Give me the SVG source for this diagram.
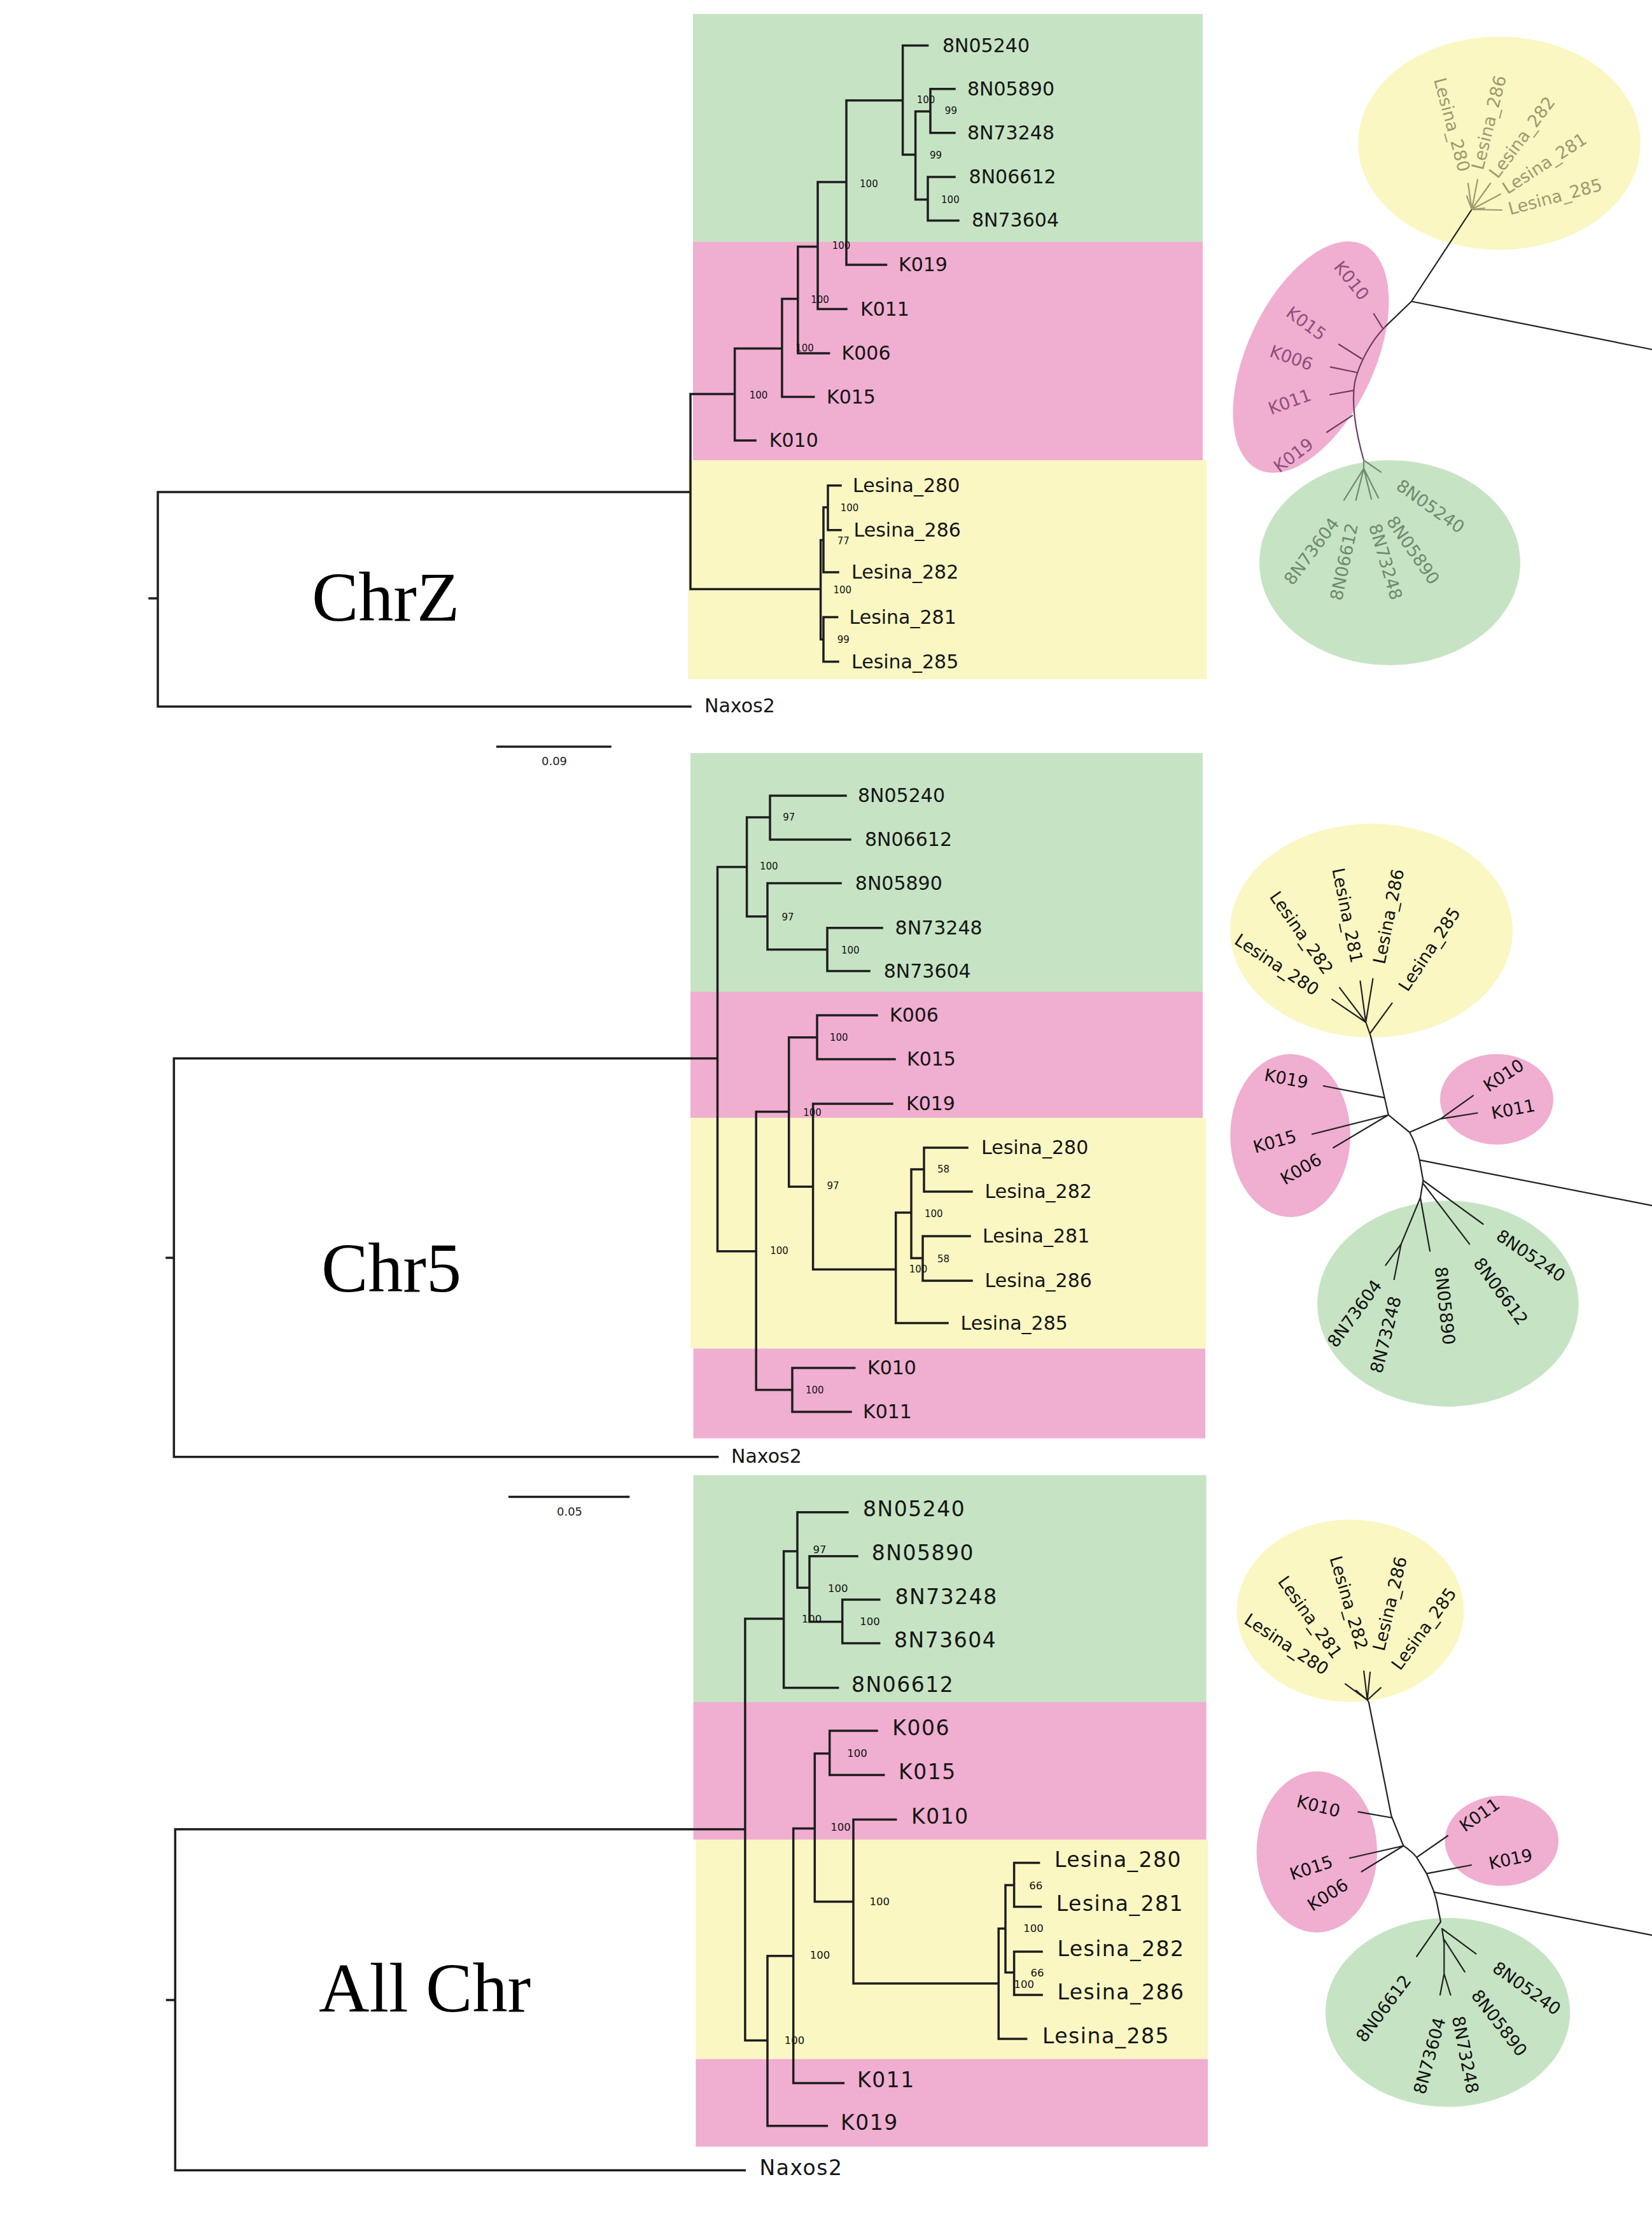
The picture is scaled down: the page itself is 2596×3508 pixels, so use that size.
<svg xmlns="http://www.w3.org/2000/svg" width="2596" height="3508" viewBox="0 0 2596 3508">
<style>
.br{fill:none;stroke:#1e1e1e;stroke-width:3.5;stroke-linecap:square}
.ur{fill:none;stroke:#222;stroke-width:2.2;stroke-linecap:round}
.tx{font-family:"DejaVu Sans",sans-serif;font-size:30px;fill:#151515}
.tx3{font-size:33px;letter-spacing:1.5px}
.bs{font-family:"DejaVu Sans",sans-serif;font-size:15px;fill:#111;text-anchor:middle;dominant-baseline:central}
.bs3{font-size:16.5px}
.ul{font-family:"DejaVu Sans",sans-serif;font-size:27px;text-anchor:middle;dominant-baseline:central;fill:#111}
.big{font-family:"Liberation Serif","Times New Roman",serif;font-size:110px;fill:#000}
.sc{font-family:"DejaVu Sans",sans-serif;font-size:18px;text-anchor:middle;fill:#222}
.g{fill:#c6e4c4}.p{fill:#f0aed0}.y{fill:#faf7c3}
.fy{fill:#9c9a6e}.fp{fill:#8d4f7c}.fg{fill:#6f8a6e}
.sy{stroke:#9c9a6e}.sp{stroke:#6e3d62}.sg{stroke:#6f8a6e}
</style>
<rect width="2596" height="3508" fill="#fff"/>

<!-- ================= PANEL 1 : ChrZ ================= -->
<g id="panel-chrz">
<g id="chrz-bands">
<rect class="g" x="1089" y="22" width="801" height="358"/>
<rect class="p" x="1089" y="380" width="801" height="343"/>
<rect class="y" x="1081" y="723" width="815" height="344"/>
</g>
<g id="chrz-connectors">
<path class="br" d="M235 940H248M248 773V1110M248 773H1085M248 1110H1085
M1085 619V925.6M1085 619H1154.6M1154.6 547.5V692M1154.6 692H1187
M1154.6 547.5H1228.9M1228.9 469.4V623.5M1228.9 623.5H1278.7
M1228.9 469.4H1253.8M1253.8 387.4V555M1253.8 555H1302.6
M1253.8 387.4H1285M1285 286V485.6M1285 485.6H1330
M1285 286H1330M1330 157.7V416M1330 416H1392.5
M1330 157.7H1418.6M1418.6 71.6V243M1418.6 71.6H1457.6
M1418.6 243H1438.6M1438.6 175V313.4
M1438.6 175H1462M1462 139.8V208.7M1462 139.8H1500M1462 208.7H1500
M1438.6 313.4H1458M1458 278V346.4M1458 278H1500M1458 346.4H1506
M1085 925.6H1289.6M1289.6 848.5V1004.6
M1289.6 848.5H1294M1294 797V899M1294 797H1301M1301 762.7V832.7M1301 762.7H1321M1301 832.7H1321M1294 899H1317
M1289.6 1004.6H1294M1294 969.6V1039.6M1294 969.6H1315.6M1294 1039.6H1317"/>
<path class="br" d="M781.6 1173H959" stroke-width="2.5"/>
</g>
<g id="chrz-taxa" class="tx">
<text id="z-8N05240" x="1481" y="81.5">8N05240</text>
<text id="z-8N05890" x="1520" y="149.8">8N05890</text>
<text id="z-8N73248" x="1520" y="218.7">8N73248</text>
<text id="z-8N06612" x="1522.6" y="288">8N06612</text>
<text id="z-8N73604" x="1527" y="356.4">8N73604</text>
<text id="z-K019" x="1412" y="426">K019</text>
<text id="z-K011" x="1352" y="495.6">K011</text>
<text id="z-K006" x="1322.6" y="565">K006</text>
<text id="z-K015" x="1299" y="633.5">K015</text>
<text id="z-K010" x="1208.8" y="702">K010</text>
<text id="z-L280" x="1340" y="772.7">Lesina_280</text>
<text id="z-L286" x="1341.6" y="842.7">Lesina_286</text>
<text id="z-L282" x="1338" y="909">Lesina_282</text>
<text id="z-L281" x="1334.5" y="979.6">Lesina_281</text>
<text id="z-L285" x="1338" y="1049.6">Lesina_285</text>
<text id="z-Naxos2" x="1107" y="1118.8">Naxos2</text>
</g>
<g id="chrz-support" class="bs">
<text x="1455" y="157">100</text><text x="1494.4" y="174.3">99</text>
<text x="1470.6" y="243.8">99</text><text x="1493.4" y="313.7">100</text>
<text x="1365.4" y="288.6">100</text><text x="1322" y="385.7">100</text>
<text x="1288.5" y="471">100</text><text x="1264.6" y="547">100</text>
<text x="1192" y="621.3">100</text><text x="1335" y="798">100</text>
<text x="1325.3" y="850">77</text><text x="1323.7" y="926.8">100</text>
<text x="1325.3" y="1005">99</text>
</g>
<text id="chrz-title" class="big" x="490" y="975">ChrZ</text>
<text id="chrz-scale" class="sc" x="871" y="1202">0.09</text>

<g id="chrz-unrooted">
<ellipse class="y" cx="2356" cy="225" rx="222" ry="167.5"/>
<ellipse class="p" cx="0" cy="0" rx="100" ry="195" transform="translate(2060 561) rotate(25)"/>
<ellipse class="g" cx="2184" cy="884" rx="205" ry="161"/>
<g id="chrz-ur-connectors">
<path class="ur" d="M2218 473.5L2596 549M2218 473.5L2312.8 329M2218 473.5L2177 513"/>
<path class="ur sp" d="M2177 513C2155 535 2136 570 2129 600C2124 630 2128 670 2143 723"/>
<path class="ur sy" d="M2312.8 329L2307 288M2312.8 329L2322 282M2312.8 329L2342 288M2312.8 329L2358 305M2312.8 329L2360 330M2312.8 329L2305 308M2312.8 329L2333 327"/>
<path class="ur sp" d="M2173 516L2158.8 493M2139.7 563.5L2104 541M2131.7 585L2090.9 576.6M2127 613.4L2090 620M2125 652.8L2085 679"/>
<path class="ur sg" d="M2143 723L2170 741.6M2143 723V736M2143 736L2112 785.6M2143 736L2130.8 785.6M2143 736L2155 784M2143 736L2166 782"/>
</g>
<text id="zu-L280" class="ul fy" transform="translate(2281.8 195.9) rotate(75)">Lesina_280</text>
<text id="zu-L286" class="ul fy" transform="translate(2339.5 192.5) rotate(-76)">Lesina_286</text>
<text id="zu-L282" class="ul fy" transform="translate(2391.6 215.6) rotate(-53)">Lesina_282</text>
<text id="zu-L281" class="ul fy" transform="translate(2427 256.7) rotate(-33)">Lesina_281</text>
<text id="zu-L285" class="ul fy" transform="translate(2443.7 309) rotate(-15)">Lesina_285</text>
<text id="zu-K010" class="ul fp" transform="translate(2124 440.7) rotate(51)">K010</text>
<text id="zu-K015" class="ul fp" transform="translate(2052.7 508) rotate(36)">K015</text>
<text id="zu-K006" class="ul fp" transform="translate(2029.4 562) rotate(19)">K006</text>
<text id="zu-K011" class="ul fp" transform="translate(2026.5 631) rotate(-20)">K011</text>
<text id="zu-K019" class="ul fp" transform="translate(2032.5 715) rotate(-37)">K019</text>
<text id="zu-8N05240" class="ul fg" transform="translate(2248 795.4) rotate(35.5)">8N05240</text>
<text id="zu-8N05890" class="ul fg" transform="translate(2220.6 864.3) rotate(55.3)">8N05890</text>
<text id="zu-8N73248" class="ul fg" transform="translate(2177.4 882.5) rotate(73.5)">8N73248</text>
<text id="zu-8N06612" class="ul fg" transform="translate(2112 882.5) rotate(-78)">8N06612</text>
<text id="zu-8N73604" class="ul fg" transform="translate(2060.8 866) rotate(-53)">8N73604</text>
</g>
</g>

<!-- ================= PANEL 2 : Chr5 ================= -->
<g id="panel-chr5">
<g id="chr5-bands">
<rect class="g" x="1085" y="1183" width="805" height="375"/>
<rect class="p" x="1085" y="1558" width="805" height="198"/>
<rect class="y" x="1085" y="1756" width="810" height="362.6"/>
<rect class="p" x="1089.6" y="2118.6" width="804.4" height="141"/>
</g>
<g id="chr5-connectors">
<path class="br" d="M262 1976H273.3M273.3 1662.8V2288.8M273.3 1662.8H1127.5M273.3 2288.8H1127.5
M1127.5 1362V1965.7
M1127.5 1362H1173.6M1173.6 1284V1439.7
M1173.6 1284H1210M1210 1250V1319M1210 1250H1329M1210 1319H1336
M1173.6 1439.7H1206M1206 1387.5V1491.7M1206 1387.5H1321M1206 1491.7H1300M1300 1457.8V1525.5M1300 1457.8H1386M1300 1525.5H1366
M1127.5 1965.7H1188.2M1188.2 1746.4V2183.6
M1188.2 1746.4H1239.7M1239.7 1629.7V1864.3
M1239.7 1629.7H1284M1284 1595V1664M1284 1595H1378M1284 1664H1406
M1239.7 1864.3H1277.6M1277.6 1734V1994.3M1277.6 1734H1402M1277.6 1994.3H1407.7
M1407.7 1905V2078.6M1407.7 2078.6H1489M1407.7 1905H1432M1432 1837V1976.4
M1432 1837H1452M1452 1803V1872M1452 1803H1520M1452 1872H1527
M1432 1976.4H1450M1450 1942V2012M1450 1942H1524M1450 2012H1527
M1188.2 2183.6H1245M1245 2149V2217.9M1245 2149H1342.7M1245 2217.9H1337"/>
<path class="br" d="M800.8 2351.5H987.6" stroke-width="2.5"/>
</g>
<g id="chr5-taxa" class="tx">
<text id="c5-8N05240" x="1348" y="1260">8N05240</text>
<text id="c5-8N06612" x="1359" y="1329">8N06612</text>
<text id="c5-8N05890" x="1343.8" y="1397.5">8N05890</text>
<text id="c5-8N73248" x="1406.6" y="1467.8">8N73248</text>
<text id="c5-8N73604" x="1388.7" y="1535.5">8N73604</text>
<text id="c5-K006" x="1398" y="1605">K006</text>
<text id="c5-K015" x="1425" y="1674">K015</text>
<text id="c5-K019" x="1424" y="1744">K019</text>
<text id="c5-L280" x="1542" y="1813">Lesina_280</text>
<text id="c5-L282" x="1547.6" y="1882">Lesina_282</text>
<text id="c5-L281" x="1544" y="1952">Lesina_281</text>
<text id="c5-L286" x="1547.6" y="2022">Lesina_286</text>
<text id="c5-L285" x="1509.6" y="2088.6">Lesina_285</text>
<text id="c5-K010" x="1363" y="2159">K010</text>
<text id="c5-K011" x="1356" y="2228">K011</text>
<text id="c5-Naxos2" x="1149" y="2298">Naxos2</text>
</g>
<g id="chr5-support" class="bs">
<text x="1239.7" y="1284.4">97</text><text x="1208.3" y="1361">100</text>
<text x="1238" y="1441.3">97</text><text x="1336.2" y="1492.8">100</text>
<text x="1318.3" y="1630">100</text><text x="1276.6" y="1747.9">100</text>
<text x="1309" y="1863.2">97</text><text x="1224.5" y="1965">100</text>
<text x="1482.5" y="1837">58</text><text x="1467.3" y="1907">100</text>
<text x="1482.5" y="1977.5">58</text><text x="1443" y="1993.6">100</text>
<text x="1280.3" y="2183.6">100</text>
</g>
<text id="chr5-title" class="big" x="505" y="2029">Chr5</text>
<text id="chr5-scale" class="sc" x="895" y="2381">0.05</text>

<g id="chr5-unrooted">
<ellipse class="y" cx="2155" cy="1462" rx="222" ry="168"/>
<ellipse class="p" cx="2027.6" cy="1784" rx="94.3" ry="128"/>
<ellipse class="p" cx="2352" cy="1727" rx="89" ry="71"/>
<ellipse class="g" cx="2275.4" cy="2048" rx="205.3" ry="161.7"/>
<g id="chr5-ur-connectors">
<path class="ur" d="M2153.9 1627.4L2181.8 1751.5L2215 1778.8Q2226 1798 2230.7 1822.4L2236.4 1854.5L2232 1881.7
M2230.7 1822.4L2596 1893.9
M2153.9 1627.4L2146.3 1606M2146.3 1606L2093 1569.8M2146.3 1606L2105 1551.6M2146.3 1606L2137.5 1541.3M2146.3 1606L2157.4 1537.7M2153.9 1622L2187.6 1575.9
M2175.2 1724.3L2079.8 1706M2181.8 1751.5L2062 1781.8M2181.8 1751.5L2095.3 1803
M2215 1778.8L2264 1757.6L2315 1721.2M2264 1757.6L2321.6 1748.5
M2236.4 1854.5L2330.5 1923M2236.9 1860L2309.2 1954.4M2232 1881.7L2247 1965.3M2232 1881.7L2201.8 1954.4L2190.7 2010M2201.8 1954.4L2177.4 1987.7"/>
</g>
<text id="c5u-L280" class="ul" transform="translate(2006.5 1515.3) rotate(33.4)">Lesina_280</text>
<text id="c5u-L282" class="ul" transform="translate(2045.3 1465.4) rotate(55)">Lesina_282</text>
<text id="c5u-L281" class="ul" transform="translate(2117.5 1438.1) rotate(78.6)">Lesina_281</text>
<text id="c5u-L286" class="ul" transform="translate(2181.9 1439.6) rotate(-78.4)">Lesina_286</text>
<text id="c5u-L285" class="ul" transform="translate(2246.2 1491.1) rotate(-56.3)">Lesina_285</text>
<text id="c5u-K019" class="ul" transform="translate(2021.4 1694.5) rotate(10.5)">K019</text>
<text id="c5u-K015" class="ul" transform="translate(2003.2 1793.3) rotate(-15.7)">K015</text>
<text id="c5u-K006" class="ul" transform="translate(2044.3 1836.3) rotate(-30.4)">K006</text>
<text id="c5u-K010" class="ul" transform="translate(2362.8 1689.4) rotate(-33)">K010</text>
<text id="c5u-K011" class="ul" transform="translate(2377.8 1742.5) rotate(-10.8)">K011</text>
<text id="c5u-8N05240" class="ul" transform="translate(2405.6 1972.7) rotate(34)">8N05240</text>
<text id="c5u-8N06612" class="ul" transform="translate(2358.3 2028.6) rotate(53.7)">8N06612</text>
<text id="c5u-8N05890" class="ul" transform="translate(2270.7 2051.4) rotate(84)">8N05890</text>
<text id="c5u-8N73248" class="ul" transform="translate(2177.5 2096.7) rotate(-75.6)">8N73248</text>
<text id="c5u-8N73604" class="ul" transform="translate(2128.6 2063.5) rotate(-53.8)">8N73604</text>
</g>
</g>

<!-- ================= PANEL 3 : All Chr ================= -->
<g id="panel-allchr">
<g id="all-bands">
<rect class="g" x="1089.6" y="2317.5" width="806" height="356.5"/>
<rect class="p" x="1089.6" y="2674" width="806" height="216"/>
<rect class="y" x="1093.4" y="2890" width="804.6" height="344.7"/>
<rect class="p" x="1093.4" y="3234.7" width="804.6" height="137.7"/>
</g>
<g id="all-connectors">
<path class="br" d="M262.5 3142H275.3M275.3 2873.8V3409.5M275.3 2873.8H1170.9M275.3 3409.5H1170.3
M1170.9 2543V3205.4
M1170.9 2543H1231.6M1231.6 2437V2651.6M1231.6 2651.6H1316.7
M1231.6 2437H1253M1253 2375.8V2494.3M1253 2375.8H1331.8
M1253 2494.3H1272M1272 2444.7V2547.8M1272 2444.7H1347M1272 2547.8H1323.7M1323.7 2513V2581.6M1323.7 2513H1381.7M1323.7 2581.6H1381.7
M1170.9 3205.4H1206M1206 3072.8V3339.7M1206 3339.7H1299.3
M1206 3072.8H1246.7M1246.7 2872.5V3272.6M1246.7 3272.6H1325.3
M1246.7 2872.5H1280.3M1280.3 2754.7V2987.4
M1280.3 2754.7H1303.7M1303.7 2719V2788.6M1303.7 2719H1378M1303.7 2788.6H1388.7
M1280.3 2987.4H1341M1341 2858.5V3115.9M1341 2858.5H1407.7
M1341 3115.9H1569.2M1569.2 3029.8V3203M1569.2 3203H1612.6
M1569.2 3029.8H1580M1580 2961.6V3098.7
M1580 2961.6H1593.6M1593.6 2926.5V2995.4M1593.6 2926.5H1632.6M1593.6 2995.4H1635.4
M1580 3098.7H1593.6M1593.6 3066V3134M1593.6 3066H1637M1593.6 3134H1637"/>
</g>
<g id="all-taxa" class="tx tx3">
<text id="a-8N05240" x="1356" y="2382">8N05240</text>
<text id="a-8N05890" x="1369.8" y="2451">8N05890</text>
<text id="a-8N73248" x="1406.6" y="2519.5">8N73248</text>
<text id="a-8N73604" x="1405" y="2588">8N73604</text>
<text id="a-8N06612" x="1338" y="2658">8N06612</text>
<text id="a-K006" x="1402.3" y="2725.5">K006</text>
<text id="a-K015" x="1412" y="2795">K015</text>
<text id="a-K010" x="1432" y="2865">K010</text>
<text id="a-L280" x="1657" y="2933">Lesina_280</text>
<text id="a-L281" x="1659.8" y="3002">Lesina_281</text>
<text id="a-L282" x="1661.4" y="3072.5">Lesina_282</text>
<text id="a-L286" x="1661.4" y="3140.5">Lesina_286</text>
<text id="a-L285" x="1638" y="3209.5">Lesina_285</text>
<text id="a-K011" x="1347" y="3279">K011</text>
<text id="a-K019" x="1321" y="3346">K019</text>
<text id="a-Naxos2" x="1193.6" y="3417">Naxos2</text>
</g>
<g id="all-support" class="bs bs3">
<text x="1288" y="2434.5">97</text><text x="1316.7" y="2495.5">100</text>
<text x="1275.5" y="2543.6">100</text><text x="1367" y="2547.8">100</text>
<text x="1347" y="2754.7">100</text><text x="1321" y="2870.6">100</text>
<text x="1382.2" y="2987.4">100</text><text x="1288.5" y="3071">100</text>
<text x="1248.4" y="3205.4">100</text><text x="1627.8" y="2962.6">66</text>
<text x="1624" y="3029.8">100</text><text x="1630" y="3099.4">66</text>
<text x="1609.3" y="3117">100</text>
</g>
<text id="all-title" class="big" x="501" y="3160">All Chr</text>

<g id="all-unrooted">
<ellipse class="y" cx="2122" cy="2530.5" rx="178.5" ry="143.3"/>
<ellipse class="p" cx="2069.3" cy="2909.4" rx="94.7" ry="126.6"/>
<ellipse class="p" cx="2359.8" cy="2891.9" rx="89.2" ry="70.9"/>
<ellipse class="g" cx="2275" cy="3161.4" rx="192.2" ry="148.4"/>
<g id="all-ur-connectors">
<path class="ur" d="M2150.8 2673.8L2186.3 2852.4L2205.4 2899.7Q2218 2908 2226.2 2917.9L2241.8 2943.3L2252.9 2970.5L2257.3 2985.7L2264 3019
M2252.9 2972.4L2596 3040.2
M2150.8 2673.8L2148.6 2670.7M2148.6 2670.7L2114 2645.3M2148.6 2670.7L2130.8 2655.6M2148.6 2670.7L2143.2 2625.3M2148.6 2670.7L2153 2627.1M2148.6 2670.7L2169.9 2651.4
M2186.3 2855.5L2134.4 2846.4M2205.4 2899.7L2121 2919M2205.4 2899.7L2139.7 2940.3
M2226.2 2917.9L2275 2884M2241.8 2943.3L2312 2930
M2264 3019L2226.2 3073.5M2266 3030L2319.4 3069.3M2268 3045L2301.7 3097.7M2266 3030L2269.3 3052.3V3100.8M2269.3 3100.8L2263 3134M2269.3 3100.8L2279.5 3134"/>
</g>
<text id="au-L280" class="ul" transform="translate(2021.7 2583) rotate(33.3)">Lesina_280</text>
<text id="au-L281" class="ul" transform="translate(2058.7 2540.6) rotate(54.4)">Lesina_281</text>
<text id="au-L282" class="ul" transform="translate(2119.7 2517.8) rotate(73.7)">Lesina_282</text>
<text id="au-L286" class="ul" transform="translate(2184 2519.3) rotate(-76.3)">Lesina_286</text>
<text id="au-L285" class="ul" transform="translate(2237.4 2558.7) rotate(-53.8)">Lesina_285</text>
<text id="au-K010" class="ul" transform="translate(2072 2837.3) rotate(14)">K010</text>
<text id="au-K015" class="ul" transform="translate(2060.5 2934.2) rotate(-18)">K015</text>
<text id="au-K006" class="ul" transform="translate(2086.4 2976.6) rotate(-32.4)">K006</text>
<text id="au-K011" class="ul" transform="translate(2325 2851) rotate(-35)">K011</text>
<text id="au-K019" class="ul" transform="translate(2373.8 2920.6) rotate(-11.7)">K019</text>
<text id="au-8N05240" class="ul" transform="translate(2399.3 3123.5) rotate(35.3)">8N05240</text>
<text id="au-8N05890" class="ul" transform="translate(2356 3178) rotate(52.3)">8N05890</text>
<text id="au-8N73248" class="ul" transform="translate(2302.8 3228) rotate(79)">8N73248</text>
<text id="au-8N73604" class="ul" transform="translate(2246.3 3229.5) rotate(-74.7)">8N73604</text>
<text id="au-8N06612" class="ul" transform="translate(2174.1 3155.3) rotate(-53)">8N06612</text>
</g>
</g>
</svg>
